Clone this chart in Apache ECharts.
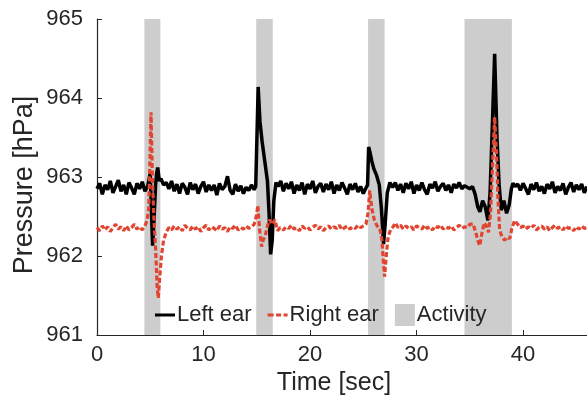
<!DOCTYPE html>
<html>
<head>
<meta charset="utf-8">
<script src="https://cdn.jsdelivr.net/npm/echarts@6/dist/echarts.min.js"></script>
<style>
  html, body { margin: 0; padding: 0; background: #fff; }
  #chart { width: 587px; height: 405px; }
</style>
</head>
<body>
<div id="chart"></div>
<script>
// pressure traces, [time sec, hPa]
var leftEar = [
  [0, 962.85], [0.25, 962.92], [0.5, 962.78], [0.75, 962.90], [1, 962.84], [1.25, 962.95], [1.5, 962.80], [1.75, 962.88],
  [2, 962.96], [2.25, 962.82], [2.5, 962.90], [2.75, 962.78], [3, 962.93], [3.25, 962.86], [3.5, 962.78], [3.75, 962.92],
  [4, 962.85], [4.25, 962.94], [4.5, 962.82], [4.75, 962.88],
  [4.9, 962.98], [5.0, 963.05], [5.1, 962.6], [5.22, 962.13], [5.35, 962.45], [5.5, 962.9], [5.6, 963.05], [5.7, 963.12],
  [5.85, 962.95], [6.0, 962.98], [6.25, 962.90],
  [6.5, 962.93], [6.75, 962.85], [7, 962.95], [7.25, 962.82], [7.5, 962.91], [7.75, 962.79], [8, 962.92], [8.25, 962.87],
  [8.5, 962.78], [8.75, 962.93], [9, 962.84], [9.25, 962.91], [9.5, 962.79], [9.75, 962.88], [10, 962.94], [10.25, 962.81],
  [10.5, 962.90], [10.75, 962.83], [11, 962.90], [11.25, 962.77], [11.5, 962.92], [11.75, 962.84], [12, 962.88], [12.25, 963.01],
  [12.5, 962.83], [12.75, 962.78], [13, 962.91], [13.25, 962.82], [13.5, 962.89], [13.75, 962.79], [14, 962.87], [14.25, 962.83],
  [14.5, 962.90], [14.75, 962.84],
  [14.9, 962.88], [15.0, 963.42], [15.13, 964.14], [15.3, 963.7], [15.5, 963.45], [15.75, 963.2], [16.0, 962.95], [16.15, 962.55],
  [16.3, 962.02], [16.45, 962.2], [16.6, 962.7], [16.8, 962.93], [17, 962.88], [17.25, 962.95],
  [17.5, 962.82], [17.75, 962.92], [18, 962.85], [18.25, 962.94], [18.5, 962.79], [18.75, 962.90], [19, 962.83], [19.25, 962.93],
  [19.5, 962.78], [19.75, 962.91], [20, 962.85], [20.25, 962.95], [20.5, 962.80], [20.75, 962.88], [21, 962.92], [21.25, 962.81],
  [21.5, 962.91], [21.75, 962.84], [22, 962.94], [22.25, 962.79], [22.5, 962.90], [22.75, 962.83], [23, 962.93], [23.25, 962.86],
  [23.5, 962.78], [23.75, 962.91], [24, 962.84], [24.25, 962.92], [24.5, 962.81], [24.75, 962.88], [25, 962.79], [25.25, 962.86],
  [25.4, 962.9], [25.5, 963.38], [25.65, 963.3], [25.8, 963.2], [26.0, 963.1], [26.25, 963.02], [26.5, 962.9], [26.7, 962.6],
  [26.9, 962.15], [27.05, 962.4], [27.25, 962.8], [27.5, 962.93], [27.75, 962.87],
  [28, 962.93], [28.25, 962.83], [28.5, 962.91], [28.75, 962.80], [29, 962.92], [29.25, 962.85], [29.5, 962.94], [29.75, 962.79],
  [30, 962.90], [30.25, 962.83], [30.5, 962.93], [30.75, 962.84], [31, 962.78], [31.25, 962.91], [31.5, 962.86], [31.75, 962.94],
  [32, 962.82], [32.25, 962.88], [32.5, 962.92], [32.75, 962.83], [33, 962.90], [33.25, 962.80], [33.5, 962.91], [33.75, 962.86],
  [34, 962.93], [34.25, 962.85], [34.5, 962.89],
  [34.75, 962.87], [35, 962.85], [35.25, 962.88], [35.5, 962.78], [35.75, 962.62], [35.95, 962.56], [36.2, 962.7], [36.45, 962.62],
  [36.7, 962.45], [36.9, 962.8], [37.1, 963.6], [37.33, 964.56], [37.55, 963.5], [37.75, 962.9], [37.95, 962.58], [38.2, 962.7],
  [38.45, 962.54], [38.7, 962.65], [38.9, 962.85], [39.05, 962.92], [39.25, 962.88],
  [39.5, 962.91], [39.75, 962.83], [40, 962.92], [40.25, 962.85], [40.5, 962.78], [40.75, 962.91], [41, 962.84], [41.25, 962.93],
  [41.5, 962.82], [41.75, 962.88], [42, 962.79], [42.25, 962.91], [42.5, 962.85], [42.75, 962.94], [43, 962.80], [43.25, 962.88],
  [43.5, 962.83], [43.75, 962.92], [44, 962.78], [44.25, 962.87], [44.5, 962.93], [44.75, 962.81], [45, 962.90], [45.25, 962.84],
  [45.5, 962.91], [45.75, 962.80], [46, 962.88]
];

var rightEar = [
  [0, 962.36], [0.25, 962.32], [0.5, 962.38], [0.75, 962.33], [1, 962.37], [1.25, 962.31], [1.5, 962.36], [1.75, 962.40],
  [2, 962.34], [2.25, 962.37], [2.5, 962.32], [2.75, 962.38], [3, 962.33], [3.25, 962.36], [3.5, 962.40], [3.75, 962.34],
  [4, 962.37], [4.25, 962.33], [4.5, 962.38], [4.7, 962.45],
  [4.85, 962.6], [4.95, 963.1], [5.07, 963.82], [5.2, 963.0], [5.35, 962.45], [5.5, 962.1], [5.65, 961.6], [5.75, 961.47],
  [5.9, 961.75], [6.05, 962.0], [6.25, 962.2], [6.5, 962.3], [6.75, 962.36], [7, 962.33],
  [7.25, 962.38], [7.5, 962.34], [7.75, 962.37], [8, 962.32], [8.25, 962.39], [8.5, 962.35], [8.75, 962.33], [9, 962.38],
  [9.25, 962.34], [9.5, 962.37], [9.75, 962.31], [10, 962.36], [10.25, 962.39], [10.5, 962.33], [10.75, 962.37], [11, 962.35],
  [11.25, 962.32], [11.5, 962.38], [11.75, 962.34], [12, 962.36], [12.25, 962.31], [12.5, 962.37], [12.75, 962.35], [13, 962.39],
  [13.25, 962.33], [13.5, 962.36], [13.75, 962.34], [14, 962.38], [14.25, 962.35], [14.5, 962.37], [14.75, 962.40],
  [14.95, 962.5], [15.1, 962.64], [15.25, 962.35], [15.45, 962.12], [15.6, 962.2], [15.8, 962.26], [16.0, 962.38], [16.2, 962.46],
  [16.45, 962.4], [16.7, 962.46], [16.95, 962.32], [17.2, 962.36],
  [17.5, 962.33], [17.75, 962.37], [18, 962.35], [18.25, 962.39], [18.5, 962.34], [18.75, 962.36], [19, 962.32], [19.25, 962.38],
  [19.5, 962.35], [19.75, 962.37], [20, 962.33], [20.25, 962.36], [20.5, 962.39], [20.75, 962.34], [21, 962.37], [21.25, 962.32],
  [21.5, 962.36], [21.75, 962.38], [22, 962.34], [22.25, 962.37], [22.5, 962.35], [22.75, 962.39], [23, 962.33], [23.25, 962.36],
  [23.5, 962.38], [23.75, 962.34], [24, 962.37], [24.25, 962.35], [24.5, 962.39], [24.75, 962.36], [25, 962.38], [25.25, 962.40],
  [25.45, 962.55], [25.6, 962.83], [25.8, 962.6], [26.05, 962.45], [26.3, 962.38], [26.55, 962.35], [26.75, 962.2], [26.9, 961.9],
  [27.0, 961.74], [27.15, 962.0], [27.33, 962.24], [27.55, 962.33], [27.8, 962.37],
  [28, 962.42], [28.25, 962.36], [28.5, 962.39], [28.75, 962.34], [29, 962.38], [29.25, 962.35], [29.5, 962.37], [29.75, 962.33],
  [30, 962.38], [30.25, 962.36], [30.5, 962.34], [30.75, 962.39], [31, 962.35], [31.25, 962.37], [31.5, 962.33], [31.75, 962.38],
  [32, 962.36], [32.25, 962.39], [32.5, 962.34], [32.75, 962.37], [33, 962.35], [33.25, 962.38], [33.5, 962.33], [33.75, 962.36],
  [34, 962.39], [34.25, 962.35], [34.5, 962.37], [34.75, 962.36], [35, 962.40],
  [35.3, 962.41], [35.55, 962.3], [35.75, 962.2], [35.93, 962.13], [36.15, 962.3], [36.35, 962.42], [36.56, 962.38], [36.75, 962.3],
  [36.95, 962.55], [37.15, 963.2], [37.33, 963.76], [37.5, 963.3], [37.65, 962.7], [37.8, 962.33], [38.0, 962.25], [38.27, 962.2],
  [38.5, 962.24], [38.74, 962.22], [38.95, 962.35], [39.2, 962.45],
  [39.5, 962.40], [39.75, 962.36], [40, 962.38], [40.25, 962.34], [40.5, 962.37], [40.75, 962.35], [41, 962.39], [41.25, 962.33],
  [41.5, 962.36], [41.75, 962.38], [42, 962.34], [42.25, 962.37], [42.5, 962.32], [42.75, 962.36], [43, 962.39], [43.25, 962.35],
  [43.5, 962.37], [43.75, 962.33], [44, 962.38], [44.25, 962.35], [44.5, 962.36], [44.75, 962.32], [45, 962.37], [45.25, 962.34],
  [45.5, 962.38], [45.75, 962.35], [46, 962.36]
];

// shaded activity windows, [start, end] in sec
var activity = [
  [4.45, 5.95],
  [14.95, 16.5],
  [25.45, 27.0],
  [34.5, 38.95]
];

var FONT = "'Liberation Sans', Arial, Helvetica, sans-serif";
var TXT = '#262626';

// legend glyphs: a solid and a dashed stroke, boxed to the 20x22 item size
var solidIcon = 'path://M0,0 M0,9.5 L20,9.5 L20,12.5 L0,12.5 Z M20,22';
var dashIcon = 'path://M0,0 M0,9.5 L6,9.5 L6,12.5 L0,12.5 Z M8.5,9.5 L13.5,9.5 L13.5,12.5 L8.5,12.5 Z M16,9.5 L20,9.5 L20,12.5 L16,12.5 Z M20,22';

var chart = echarts.init(document.getElementById('chart'), null, { renderer: 'canvas' });

var option = {
  backgroundColor: '#fff',
  animation: false,
  grid: { left: 97, right: 0, top: 19, bottom: 70 },
  legend: {
    left: 150,
    top: 299,
    itemWidth: 20,
    itemHeight: 22,
    itemGap: 16,
    textStyle: { fontSize: 22, color: TXT, fontFamily: FONT, padding: [0, 0, 0, -3] },
    data: [
      { name: 'Left ear', icon: solidIcon },
      { name: 'Right ear', icon: dashIcon },
      { name: 'Activity', icon: 'rect' }
    ]
  },
  xAxis: {
    type: 'value',
    min: 0,
    max: 46,
    interval: 10,
    name: 'Time [sec]',
    nameLocation: 'middle',
    nameGap: 36,
    nameMoveOverlap: false,
    nameTextStyle: { fontSize: 25, color: TXT, fontFamily: FONT, padding: [0, 16, 0, 0] },
    axisLine: { lineStyle: { color: TXT, width: 1.2 } },
    axisTick: { inside: true, length: 5, lineStyle: { color: TXT } },
    axisLabel: { fontSize: 22, color: TXT, fontFamily: FONT, margin: 9, showMaxLabel: false },
    splitLine: { show: false }
  },
  yAxis: {
    type: 'value',
    min: 961,
    max: 965,
    interval: 1,
    name: 'Pressure [hPa]',
    nameLocation: 'middle',
    nameGap: 59,
    nameMoveOverlap: false,
    nameTextStyle: { fontSize: 27, color: TXT, fontFamily: FONT, padding: [0, 16, 0, 0] },
    axisLine: { lineStyle: { color: TXT, width: 1.2 } },
    axisTick: { inside: true, length: 5, lineStyle: { color: TXT } },
    axisLabel: { fontSize: 22, color: TXT, fontFamily: FONT, margin: 14 },
    splitLine: { show: false }
  },
  series: [
    {
      name: 'Activity',
      type: 'line',
      data: [],
      z: 1,
      itemStyle: { color: '#cdcdcd' },
      lineStyle: { color: '#cdcdcd' },
      markArea: {
        silent: true,
        itemStyle: { color: '#cdcdcd' },
        data: activity.map(function (a) { return [{ xAxis: a[0] }, { xAxis: a[1] }]; })
      }
    },
    {
      name: 'Left ear',
      type: 'line',
      data: leftEar,
      z: 3,
      symbol: 'none',
      itemStyle: { color: '#000' },
      lineStyle: { color: '#000', width: 3.5 }
    },
    {
      name: 'Right ear',
      type: 'line',
      data: rightEar,
      z: 4,
      symbol: 'none',
      itemStyle: { color: '#e2452f' },
      lineStyle: { color: '#e2452f', width: 3.2, type: [5, 2.5] }
    }
  ]
};

chart.setOption(option);
</script>
</body>
</html>
